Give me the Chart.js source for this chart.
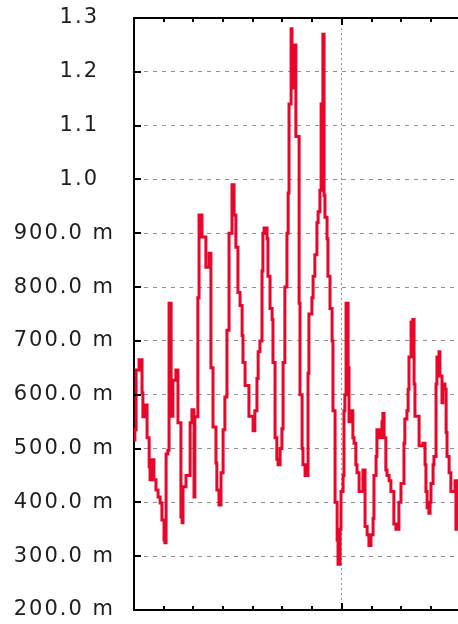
<!DOCTYPE html>
<html>
<head>
<meta charset="utf-8">
<script src="https://cdn.jsdelivr.net/npm/chart.js@4/dist/chart.umd.min.js"></script>
<style>
  html, body { margin: 0; padding: 0; background: #fff; }
  #wrap { width: 458px; height: 624px; }
</style>
</head>
<body>
<div id="wrap"><canvas id="signalChart" width="458" height="624"></canvas></div>
<script>
// sample times (x units, one minor tick = 10)
const times = [
  0.0, 0.3, 0.7, 1.7, 2.7, 3.0, 3.4, 4.4, 5.1, 5.4, 6.1, 6.7, 7.4, 8.1, 8.8, 9.4, 10.1, 10.4, 10.8, 11.4,
  11.8, 12.5, 13.1, 14.1, 14.8, 15.5, 15.8, 16.2, 16.5, 17.5, 18.9, 19.5, 20.2, 20.5, 21.5, 21.9, 22.9, 24.2, 25.3, 25.9,
  26.6, 27.6, 27.9, 28.6, 29.3, 30.0, 30.6, 31.3, 32.0, 33.0, 33.7, 34.3, 35.0, 35.7, 36.4, 36.7, 37.4, 38.0, 38.7, 40.1,
  40.7, 41.4, 41.8, 42.4, 43.1, 43.4, 43.8, 44.8, 45.1, 45.8, 46.5, 46.8, 47.5, 48.1, 48.5, 49.2, 49.8, 50.2, 50.8, 51.5,
  51.9, 52.2, 52.9, 53.2, 53.9, 54.2, 54.5, 55.2, 55.6, 55.9, 56.6, 56.9, 57.6, 58.2, 58.6, 58.9, 59.9, 60.3, 60.9, 61.6,
  62.0, 62.6, 63.0, 63.6, 64.0, 64.3, 65.0, 65.3, 66.0, 66.7, 67.0, 67.7, 68.4, 68.7, 69.4, 69.7, 70.4, 70.7, 71.0, 71.4,
  71.7, 72.1, 72.4, 73.1, 73.7, 74.1, 74.7, 75.1, 75.8, 76.8, 77.1, 77.8, 78.5, 79.1, 79.8, 80.5, 80.8, 81.5, 81.8, 82.5,
  83.5, 83.8, 84.2, 84.8, 85.2, 85.9, 86.5, 87.2, 87.5, 88.2, 88.9, 89.2, 89.9, 90.6, 90.9, 91.2, 91.9, 92.3, 92.6, 93.3,
  93.9, 94.3, 94.6, 95.3, 96.0, 96.6, 97.3, 98.0, 98.3, 98.7, 99.3, 99.7, 100.0, 100.7, 101.0, 101.7, 102.0, 102.7, 103.0, 103.7,
  104.0, 104.7, 105.1, 105.4, 106.1, 106.7, 107.4, 108.1, 108.4, 108.8, 109.1
];

// signal values (1.0 = 1000 m)
const values = [
  0.516, 0.535, 0.646, 0.665, 0.603, 0.559, 0.581, 0.52, 0.466, 0.442, 0.479, 0.442, 0.423, 0.41, 0.399, 0.367, 0.33, 0.325, 0.49, 0.497,
  0.77, 0.56, 0.627, 0.646, 0.548, 0.548, 0.373, 0.362, 0.429, 0.45, 0.548, 0.572, 0.41, 0.559, 0.78, 0.934, 0.893, 0.837, 0.863, 0.65,
  0.54, 0.473, 0.423, 0.395, 0.455, 0.535, 0.596, 0.72, 0.9, 0.99, 0.934, 0.874, 0.79, 0.766, 0.71, 0.66, 0.617, 0.617, 0.56, 0.533,
  0.57, 0.63, 0.68, 0.70, 0.83, 0.90, 0.91, 0.89, 0.82, 0.76, 0.74, 0.66, 0.52, 0.48, 0.47, 0.50, 0.537, 0.66, 0.80, 0.90,
  0.975, 1.14, 1.28, 1.2, 1.17, 1.25, 1.08, 1.08, 0.77, 0.60, 0.50, 0.47, 0.45, 0.45, 0.64, 0.75, 0.78, 0.82, 0.86, 0.92,
  0.94, 0.98, 1.14, 1.27, 0.97, 0.93, 0.89, 0.82, 0.76, 0.70, 0.57, 0.40, 0.33, 0.285, 0.35, 0.42, 0.45, 0.57, 0.60, 0.77,
  0.77, 0.65, 0.55, 0.57, 0.52, 0.51, 0.47, 0.455, 0.42, 0.42, 0.46, 0.355, 0.34, 0.32, 0.34, 0.37, 0.45, 0.485, 0.535, 0.52,
  0.55, 0.565, 0.52, 0.46, 0.45, 0.44, 0.42, 0.42, 0.36, 0.35, 0.35, 0.40, 0.435, 0.435, 0.51, 0.555, 0.57, 0.61, 0.67, 0.735,
  0.74, 0.62, 0.56, 0.56, 0.505, 0.505, 0.51, 0.47, 0.42, 0.39, 0.38, 0.40, 0.435, 0.47, 0.485, 0.62, 0.67, 0.68, 0.635, 0.585,
  0.62, 0.61, 0.53, 0.485, 0.455, 0.42, 0.42, 0.44, 0.35, 0.44, 0.44
];

// y tick values and their labels
const yTicks = [1.3, 1.2, 1.1, 1.0, 0.9, 0.8, 0.7, 0.6, 0.5, 0.4, 0.3, 0.2];
const yLabels = ["1.3", "1.2", "1.1", "1.0", "900.0 m", "800.0 m", "700.0 m", "600.0 m", "500.0 m", "400.0 m", "300.0 m", "200.0 m"];
// x minor ticks, and the one with a grid line
const xTicks = [10, 20, 30, 40, 50, 60, 70, 80, 90, 100];
const xMajor = [70];

const points = times.map((t, i) => ({ x: t, y: values[i] }));

// inward tick marks and y labels, drawn over the data
const labelPlugin = {
  id: "yLabels",
  afterDraw(chart) {
    const c = chart.ctx;
    const a = chart.chartArea;
    const xs = chart.scales.x;
    const ys = chart.scales.y;
    c.save();
    c.fillStyle = "black";
    yTicks.forEach((v) => {
      const py = Math.round(ys.getPixelForValue(v));
      c.fillRect(a.left, py - 1, 7, 2);
    });
    xTicks.forEach((t) => {
      const px = Math.round(xs.getPixelForValue(t));
      const len = xMajor.includes(t) ? 7 : 4;
      c.fillRect(px - 1, a.top, 2, len);
      c.fillRect(px - 1, a.bottom - len, 2, len);
    });
    c.fillStyle = "rgb(30, 30, 30)";
    c.font = "21px 'DejaVu Sans'";
    c.textBaseline = "middle";
    c.textAlign = "right";
    if ("letterSpacing" in c) c.letterSpacing = "2px";
    yTicks.forEach((v, i) => {
      const py = ys.getPixelForValue(v);
      const right = v >= 0.999 ? a.left - 35 : a.left - 19;
      c.fillText(yLabels[i], right, py);
    });
    c.restore();
  }
};

const ctx = document.getElementById("signalChart").getContext("2d");
const chart = new Chart(ctx, {
  type: "line",
  data: {
    datasets: [
      {
        data: points,
        borderColor: "rgb(232, 7, 43)",
        borderWidth: 3,
        pointRadius: 0,
        stepped: true,
        fill: false
      }
    ]
  },
  options: {
    responsive: false,
    animation: false,
    devicePixelRatio: 1,
    layout: { padding: { top: 18, right: 0, bottom: 14, left: 134 } },
    plugins: { legend: { display: false }, tooltip: { enabled: false } },
    scales: {
      x: {
        type: "linear",
        min: 0,
        max: 109.1,
        afterBuildTicks(scale) { scale.ticks = xMajor.map((v) => ({ value: v })); },
        ticks: { display: false },
        grid: { color: "rgb(145, 145, 145)", lineWidth: 1, drawTicks: false },
        border: { display: true, color: "black", width: 2, dash: [2, 3] },
        afterFit(scale) { scale.height = 0; }
      },
      y: {
        type: "linear",
        min: 0.2,
        max: 1.3,
        afterBuildTicks(scale) { scale.ticks = yTicks.map((v) => ({ value: v })); },
        ticks: { display: false },
        grid: { color: "rgb(145, 145, 145)", lineWidth: 1, drawTicks: false },
        border: { display: true, color: "black", width: 2, dash: [4, 5] },
        afterFit(scale) { scale.width = 0; }
      },
      x2: {
        type: "linear",
        position: "top",
        min: 0,
        max: 109.1,
        ticks: { display: false },
        grid: { display: false, drawTicks: false },
        border: { display: true, color: "black", width: 2 },
        afterFit(scale) { scale.height = 0; }
      }
    }
  },
  plugins: [labelPlugin]
});
</script>
</body>
</html>
